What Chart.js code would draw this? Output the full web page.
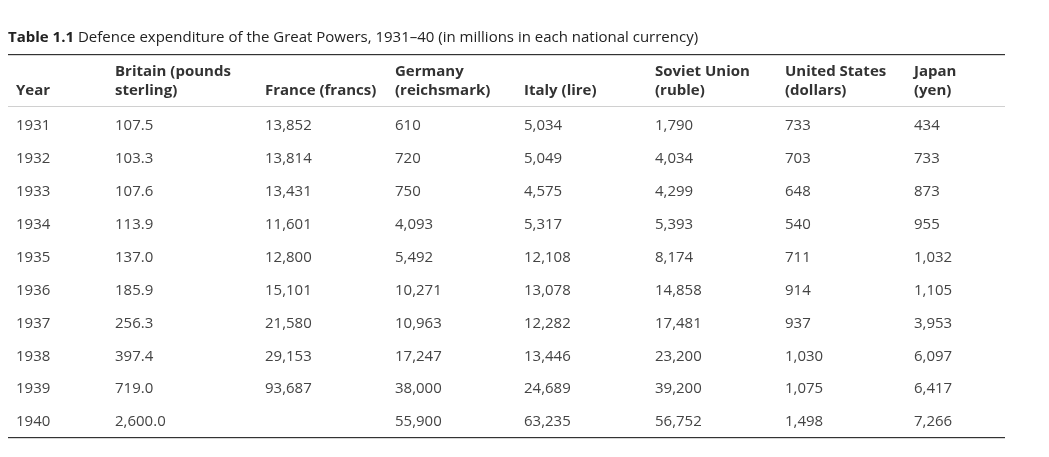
<!DOCTYPE html>
<html><head><meta charset="utf-8">
<script src="https://cdn.jsdelivr.net/npm/chart.js@4/dist/chart.umd.min.js"></script>
<style>body{margin:0;background:#fff}canvas{display:block}</style>
</head><body>
<canvas id="c" width="1049" height="457"></canvas>
<script>
const years = ['1931','1932','1933','1934','1935','1936','1937','1938','1939','1940'];
const headers = [['','Year'],['Britain (pounds','sterling)'],['','France (francs)'],['Germany','(reichsmark)'],['','Italy (lire)'],['Soviet Union','(ruble)'],['United States','(dollars)'],['Japan','(yen)']];
const britain = ['107.5','103.3','107.6','113.9','137.0','185.9','256.3','397.4','719.0','2,600.0'];
const france = ['13,852','13,814','13,431','11,601','12,800','15,101','21,580','29,153','93,687',null];
const germany = ['610','720','750','4,093','5,492','10,271','10,963','17,247','38,000','55,900'];
const italy = ['5,034','5,049','4,575','5,317','12,108','13,078','12,282','13,446','24,689','63,235'];
const soviet = ['1,790','4,034','4,299','5,393','8,174','14,858','17,481','23,200','39,200','56,752'];
const usa = ['733','703','648','540','711','914','937','1,030','1,075','1,498'];
const japan = ['434','733','873','955','1,032','1,105','3,953','6,097','6,417','7,266'];
const columns = [years, britain, france, germany, italy, soviet, usa, japan];
// layout: left edge of each column in pixels
const colPos = [16,115,265,395,524,655,785,914];

const FONT = '"Open Sans", "Noto Sans", sans-serif';
const tablePlugin = {
  id:'tbl',
  afterDatasetsDraw(chart){
    const ctx = chart.ctx;
    ctx.save();
    ctx.textBaseline='alphabetic';
    ctx.fillStyle='#222';
    ctx.font='bold 15px '+FONT;
    ctx.fillText('Table 1.1',8,42);
    const w = ctx.measureText('Table 1.1 ').width;
    ctx.font='15px '+FONT;
    ctx.fillText('Defence expenditure of the Great Powers, 1931–40 (in millions in each national currency)',8+w,42);
    ctx.fillStyle='#333';
    ctx.fillRect(8,54,997,1.2);
    ctx.fillStyle='#d0d0d0';
    ctx.fillRect(8,106,997,1);
    ctx.fillStyle='#333';
    ctx.fillRect(8,437,997,1.2);
    ctx.textBaseline='middle';
    chart.data.datasets.forEach((ds,c)=>{
      const meta = chart.getDatasetMeta(c);
      const x = meta.data[0].x;
      ctx.font='bold 15px '+FONT; ctx.fillStyle='#333';
      ctx.fillText(headers[c][0],x,72);
      ctx.fillText(headers[c][1],x,91);
      ctx.font='15px '+FONT; ctx.fillStyle='#444';
      meta.data.forEach((el,i)=>{
        const v = ds.labelsText[i];
        if(v!=null) ctx.fillText(v,el.x,el.y);
      });
    });
    ctx.restore();
  }
};
new Chart(document.getElementById('c'),{
  type:'scatter',
  data:{datasets: columns.map((col,c)=>({
    labelsText: col,
    data: years.map((y,i)=>({x:colPos[c], y:y})),
    pointRadius:0, showLine:false
  }))},
  options:{
    responsive:false, devicePixelRatio:1, animation:false,
    layout:{padding:{top:109.5,bottom:18.5,left:0,right:0}},
    plugins:{legend:{display:false},tooltip:{enabled:false}},
    scales:{
      x:{type:'linear',min:0,max:1049,display:false},
      y:{type:'category',labels:years,offset:true,display:false}
    }
  },
  plugins:[tablePlugin]
});
</script>
</body></html>
